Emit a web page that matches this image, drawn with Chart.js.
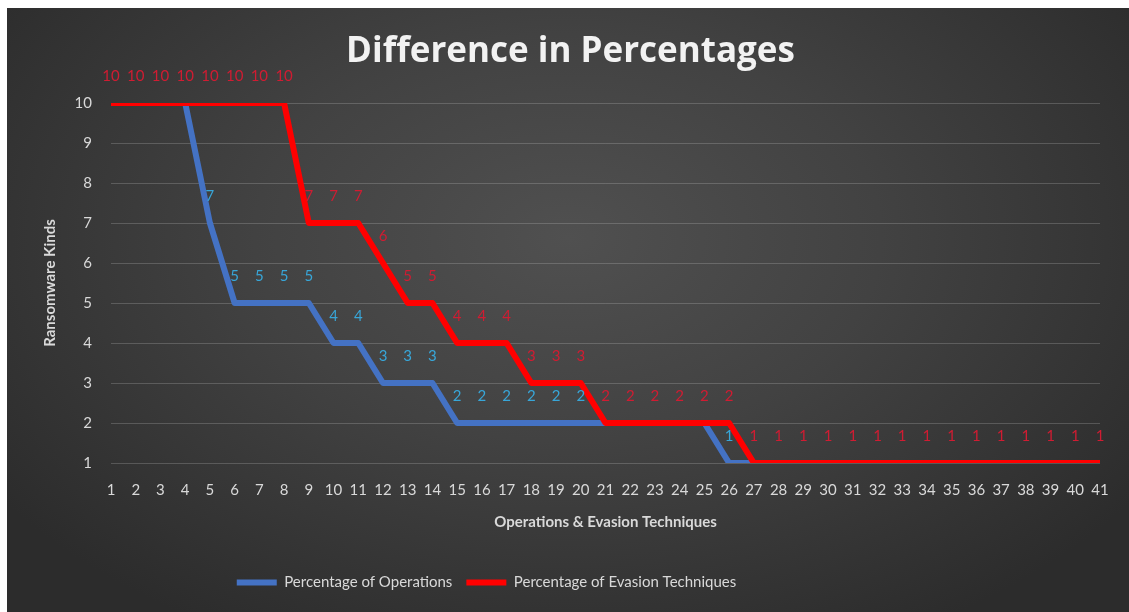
<!DOCTYPE html>
<html>
<head>
<meta charset="utf-8">
<script src="https://cdn.jsdelivr.net/npm/chart.js@4.4.1/dist/chart.umd.min.js"></script>
<style>
  html, body { margin: 0; padding: 0; background: #ffffff; }
  #panel {
    position: absolute; left: 7px; top: 8px; width: 1122px; height: 604px;
    background: radial-gradient(ellipse 62% 75% at 50% 38%, #505050 0%, #424242 45%, #2c2c2c 100%);
  }
  canvas { display: block; }
</style>
</head>
<body>
<div id="panel"><canvas id="chart" width="1122" height="604"></canvas></div>
<script>
// x positions 1..41
const categories = [
  '1','2','3','4','5','6','7','8','9','10','11','12','13','14','15','16','17','18','19','20',
  '21','22','23','24','25','26','27','28','29','30','31','32','33','34','35','36','37','38','39','40','41'
];

// Percentage of Operations
const operations = [
  10, 10, 10, 10, 7, 5, 5, 5, 5, 4, 4, 3, 3, 3, 2, 2, 2, 2, 2, 2,
  2, 2, 2, 2, 2, 1, 1, 1, 1, 1, 1, 1, 1, 1, 1, 1, 1, 1, 1, 1, 1
];

// Percentage of Evasion Techniques
const evasion = [
  10, 10, 10, 10, 10, 10, 10, 10, 7, 7, 7, 6, 5, 5, 4, 4, 4, 3, 3, 3,
  2, 2, 2, 2, 2, 2, 1, 1, 1, 1, 1, 1, 1, 1, 1, 1, 1, 1, 1, 1, 1
];

const yTicks = [1, 2, 3, 4, 5, 6, 7, 8, 9, 10];

const FONT = 'Lato, "Open Sans", "DejaVu Sans", sans-serif';
const TITLE_FONT = '"Open Sans", Lato, sans-serif';
const TEXT = '#d9d9d9';
const BLUE = '#4472c4';
const RED = '#ff0000';
const BLUE_LABEL = '#38a6d8';
const RED_LABEL = '#d01c32';

// Value labels written above each point; evasion labels are painted last.
const valueLabels = {
  id: 'valueLabels',
  afterDatasetsDraw(chart) {
    const ctx = chart.ctx;
    const opsMeta = chart.getDatasetMeta(0);
    const evMeta = chart.getDatasetMeta(1);
    ctx.save();
    ctx.font = '15px ' + FONT;
    ctx.textAlign = 'center';
    ctx.textBaseline = 'middle';
    ctx.fillStyle = BLUE_LABEL;
    operations.forEach((v, i) => {
      if (v === evasion[i]) return;
      const p = opsMeta.data[i];
      ctx.fillText(String(v), p.x, p.y - 27);
    });
    ctx.fillStyle = RED_LABEL;
    evasion.forEach((v, i) => {
      const p = evMeta.data[i];
      ctx.fillText(String(v), p.x, p.y - 27);
    });
    ctx.restore();
  }
};

// Nudges the title to the right and the legend row to the left.
const blockOffsets = {
  id: 'blockOffsets',
  afterLayout(chart) {
    const lg = chart.legend;
    if (lg) { lg.left -= 67; lg.right -= 67; }
    const tb = chart.titleBlock;
    if (tb) { tb.left += 17; tb.right += 17; }
  }
};

new Chart(document.getElementById('chart').getContext('2d'), {
  type: 'line',
  data: {
    labels: categories,
    datasets: [
      {
        label: 'Percentage of Operations',
        data: operations,
        borderColor: BLUE,
        backgroundColor: BLUE,
        borderWidth: 6,
        pointRadius: 0,
        tension: 0,
        borderJoinStyle: 'round',
        order: 1
      },
      {
        label: 'Percentage of Evasion Techniques',
        data: evasion,
        borderColor: RED,
        backgroundColor: RED,
        borderWidth: 6,
        pointRadius: 0,
        tension: 0,
        borderJoinStyle: 'round',
        order: 0
      }
    ]
  },
  options: {
    responsive: false,
    animation: false,
    devicePixelRatio: 1,
    layout: { padding: { left: 0, right: 29, top: 0, bottom: 12 } },
    plugins: {
      title: {
        display: true,
        text: 'Difference in Percentages',
        color: '#f2f2f2',
        font: { family: TITLE_FONT, size: 35, weight: 'bold' },
        padding: { top: 23, bottom: 30 }
      },
      legend: {
        position: 'bottom',
        labels: {
          color: TEXT,
          font: { family: FONT, size: 15 },
          boxWidth: 40,
          boxHeight: 6,
          padding: 14,
          sort: (a, b) => a.datasetIndex - b.datasetIndex,
          generateLabels(chart) {
            const items = Chart.defaults.plugins.legend.labels.generateLabels(chart);
            items.forEach(it => { it.lineWidth = 0; it.fillStyle = it.strokeStyle; });
            return items;
          }
        }
      },
      tooltip: { enabled: false }
    },
    scales: {
      x: {
        grid: { display: false, drawTicks: false },
        border: { display: false },
        ticks: { color: TEXT, font: { family: FONT, size: 15 }, maxRotation: 0, autoSkip: false, padding: 18 },
        title: {
          display: true,
          text: 'Operations & Evasion Techniques',
          color: TEXT,
          font: { family: FONT, size: 15, weight: 'bold' },
          padding: { top: 0, bottom: 30 }
        },
        afterFit(scale) { scale.height = 98; }
      },
      y: {
        min: yTicks[0],
        max: yTicks[yTicks.length - 1],
        grid: { color: 'rgba(217,217,217,0.22)', lineWidth: 1, drawTicks: false },
        border: { display: false },
        ticks: { stepSize: 1, color: TEXT, font: { family: FONT, size: 15 }, padding: 19 },
        afterBuildTicks(scale) { scale.ticks = yTicks.map(v => ({ value: v })); },
        title: {
          display: true,
          text: 'Ransomware Kinds',
          color: TEXT,
          font: { family: FONT, size: 15, weight: 'bold' },
          padding: { top: 34, bottom: 0 }
        },
        afterFit(scale) { scale.width = 104; }
      }
    }
  },
  plugins: [valueLabels, blockOffsets]
});
</script>
</body>
</html>
